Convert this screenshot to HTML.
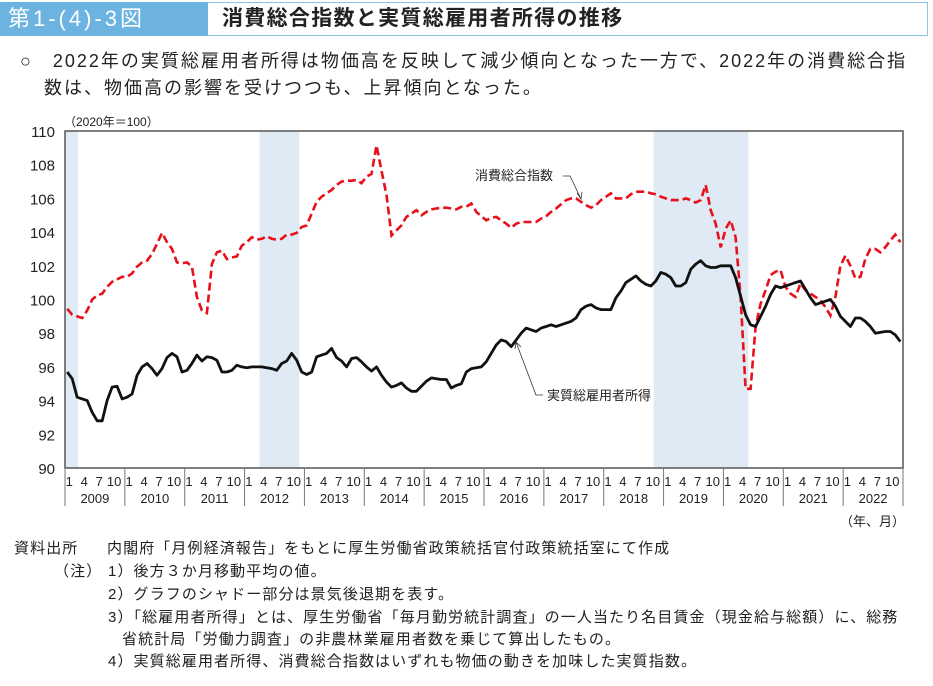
<!DOCTYPE html>
<html><head><meta charset="utf-8">
<style>
body{margin:0;width:933px;height:686px;background:#fff;font-family:"Liberation Sans","Noto Sans CJK JP",sans-serif;overflow:hidden;position:relative;color:#222}
.abs{position:absolute;white-space:nowrap}
.n{position:absolute;white-space:nowrap;font-size:15px;letter-spacing:1.1px;line-height:20px}
</style></head><body>
<div class="abs" style="left:0;top:2px;width:927px;height:32px;border:1px solid #8cc4e8;border-left:none"></div>
<div class="abs" style="left:0;top:2px;width:208px;height:34px;background:#6db3e2;color:#fff;font-size:22px;letter-spacing:3px;line-height:34px;padding-left:8px;box-sizing:border-box">第1-(4)-3図</div>
<div class="abs" style="left:222px;top:3px;font-size:21px;letter-spacing:1.3px;font-weight:bold;line-height:32px">消費総合指数と実質総雇用者所得の推移</div>
<div class="abs" style="left:20px;top:48px;font-size:18px;letter-spacing:2px;line-height:27px;white-space:normal;width:920px">○　2022年の実質総雇用者所得は物価高を反映して減少傾向となった一方で、2022年の消費総合指<br><span style="padding-left:24px">数は、物価高の影響を受けつつも、上昇傾向となった。</span></div>
<svg id="chart" class="abs" style="left:0;top:0" width="933" height="540"></svg>
<div>
<div class="n" style="left:14px;top:539px">資料出所</div>
<div class="n" style="left:107px;top:539px">内閣府「月例経済報告」をもとに厚生労働省政策統括官付政策統括室にて作成</div>
<div class="n" style="left:54px;top:562px">（注）</div>
<div class="n" style="left:108px;top:562px">1）後方３か月移動平均の値。</div>
<div class="n" style="left:108px;top:585px">2）グラフのシャドー部分は景気後退期を表す。</div>
<div class="n" style="left:108px;top:608px">3）「総雇用者所得」とは、厚生労働省「毎月勤労統計調査」の一人当たり名目賃金（現金給与総額）に、総務</div>
<div class="n" style="left:122px;top:630px">省統計局「労働力調査」の非農林業雇用者数を乗じて算出したもの。</div>
<div class="n" style="left:108px;top:652px">4）実質総雇用者所得、消費総合指数はいずれも物価の動きを加味した実質指数。</div>
</div>
<script>
const years=[2009,2010,2011,2012,2013,2014,2015,2016,2017,2018,2019,2020,2021,2022];
const yTicks=[90,92,94,96,98,100,102,104,106,108,110];
const monthTicks=["1","4","7","10"];
const income=[95.7,95.3,94.2,94.1,94.0,93.3,92.8,92.8,94.0,94.8,94.85,94.1,
94.2,94.4,95.5,96.0,96.2,95.9,95.5,95.9,96.55,96.8,96.6,95.7,
95.8,96.2,96.7,96.35,96.6,96.55,96.4,95.7,95.7,95.8,96.1,96.0,
95.95,96.0,96.0,96.0,95.95,95.9,95.8,96.2,96.35,96.8,96.4,95.7,
95.55,95.7,96.6,96.7,96.8,97.1,96.55,96.35,96.0,96.5,96.55,96.3,
96.0,95.75,96.0,95.5,95.1,94.8,94.9,95.05,94.75,94.55,94.55,94.85,
95.15,95.35,95.3,95.25,95.25,94.75,94.9,95.0,95.7,95.9,95.95,96.0,
96.3,96.8,97.3,97.6,97.5,97.2,97.6,98.0,98.3,98.2,98.1,98.3,
98.4,98.5,98.4,98.5,98.6,98.7,98.9,99.4,99.6,99.7,99.5,99.4,
99.4,99.4,100.1,100.5,101.0,101.2,101.4,101.1,100.9,100.8,101.1,101.6,
101.5,101.3,100.8,100.8,101.0,101.8,102.1,102.3,102.0,101.9,101.9,102.0,
102.0,102.0,101.3,100.2,99.1,98.5,98.4,99.0,99.6,100.3,100.8,100.7,
100.8,100.9,101.0,101.1,100.6,100.1,99.7,99.8,99.9,100.0,99.6,99.0,
98.7,98.4,98.9,98.9,98.7,98.4,98.0,98.05,98.1,98.1,97.9,97.5];
const consumption=[99.45,99.1,99.0,98.9,99.35,100.0,100.25,100.35,100.75,101.05,101.2,101.35,
101.35,101.55,101.95,102.2,102.3,102.7,103.3,103.95,103.4,103.0,102.2,102.15,
102.2,101.95,100.15,99.35,99.2,102.1,102.8,102.9,102.4,102.5,102.55,103.2,
103.4,103.7,103.55,103.6,103.75,103.6,103.55,103.6,103.85,103.85,103.95,104.3,
104.4,105.1,105.8,106.1,106.3,106.5,106.8,107.0,107.05,107.05,107.1,106.9,
107.3,107.45,109.15,107.65,106.2,103.8,104.1,104.4,104.9,105.1,105.3,105.0,
105.2,105.35,105.4,105.45,105.45,105.4,105.35,105.5,105.5,105.7,105.2,104.95,
104.7,104.85,104.9,104.7,104.5,104.25,104.5,104.6,104.6,104.6,104.6,104.8,
104.95,105.2,105.4,105.65,105.9,106.0,106.0,105.8,105.6,105.45,105.6,105.9,
106.1,106.3,106.0,106.0,106.0,106.25,106.4,106.4,106.4,106.3,106.25,106.1,
106.0,105.9,105.9,105.9,106.0,105.9,105.75,105.9,106.8,105.3,104.5,103.1,
104.2,104.7,103.7,100.15,94.7,94.7,98.4,99.75,100.55,101.45,101.65,101.75,
100.75,100.35,100.15,100.95,100.55,100.35,100.15,99.95,99.55,99.05,100.15,102.0,
102.6,102.0,101.25,101.35,102.4,103.0,103.0,102.8,103.1,103.5,103.85,103.4];
const recessions=[[0,2.6],[39,47],[118,137]];
const L=65,R=903,T=131,B=468,N=168;
const mw=(R-L)/N;
const x=i=>L+(i+0.45)*mw;
const y=v=>B-(v-90)/20*(B-T);
const svg=document.getElementById('chart');
const NS='http://www.w3.org/2000/svg';
function mk(tag,attrs,parent){const e=document.createElementNS(NS,tag);for(const k in attrs)e.setAttribute(k,attrs[k]);(parent||svg).appendChild(e);return e;}
recessions.forEach((r,k)=>{const e=mk('rect',{x:L+r[0]*mw,y:T,width:(r[1]-r[0])*mw,height:B-T,fill:'#dfeaf4'});

});
const frame=mk('rect',{x:L,y:T,width:R-L,height:B-T,fill:'none',stroke:'#555','stroke-width':1.5});


yTicks.forEach(v=>{const t=mk('text',{x:55,y:y(v)+6,'text-anchor':'end','font-size':15,fill:'#222'});t.textContent=v;

});
const u=mk('text',{x:64,y:126,'font-size':12,fill:'#222'});u.textContent='（2020年＝100）';


years.forEach((yr,k)=>{const x0=L+k*12*mw;
 const ln=mk('line',{x1:x0,x2:x0,y1:B,y2:506,stroke:'#777','stroke-width':1});
 
 
 monthTicks.forEach((m,j)=>{const t=mk('text',{x:x(k*12+j*3)+2,y:486,'text-anchor':'middle','font-size':13,fill:'#222'});t.textContent=m;
 
 });
 const t=mk('text',{x:x0+6*mw,y:503,'text-anchor':'middle','font-size':13,fill:'#222'});t.textContent=yr;
 
 });
const ln2=mk('line',{x1:R,x2:R,y1:B,y2:506,stroke:'#777','stroke-width':1});
const xu=mk('text',{x:905,y:526,'text-anchor':'end','font-size':13,fill:'#222'});xu.textContent='（年、月）';


function pts(arr){return arr.map((v,i)=>x(i).toFixed(1)+','+y(v).toFixed(1)).join(' ');}
const p1=mk('polyline',{points:pts(consumption),fill:'none',stroke:'#e8101a','stroke-width':2.6,'stroke-dasharray':'8,4'});


const p2=mk('polyline',{points:pts(income),fill:'none',stroke:'#111','stroke-width':2.8,'stroke-linejoin':'round'});


const a1=mk('text',{x:475,y:180,'font-size':13,fill:'#222'});a1.textContent='消費総合指数';


mk('polyline',{points:'563,176 570,176 581,199',fill:'none',stroke:'#333','stroke-width':0.8});
mk('polyline',{points:'577,193 581,199 582,192',fill:'none',stroke:'#333','stroke-width':0.8});
const a2=mk('text',{x:547,y:400,'font-size':13,fill:'#222'});a2.textContent='実質総雇用者所得';


mk('polyline',{points:'543,395 536,395 516,342',fill:'none',stroke:'#333','stroke-width':0.8});
mk('polyline',{points:'515,349 516,342 521,347',fill:'none',stroke:'#333','stroke-width':0.8});
</script>
</body></html>
